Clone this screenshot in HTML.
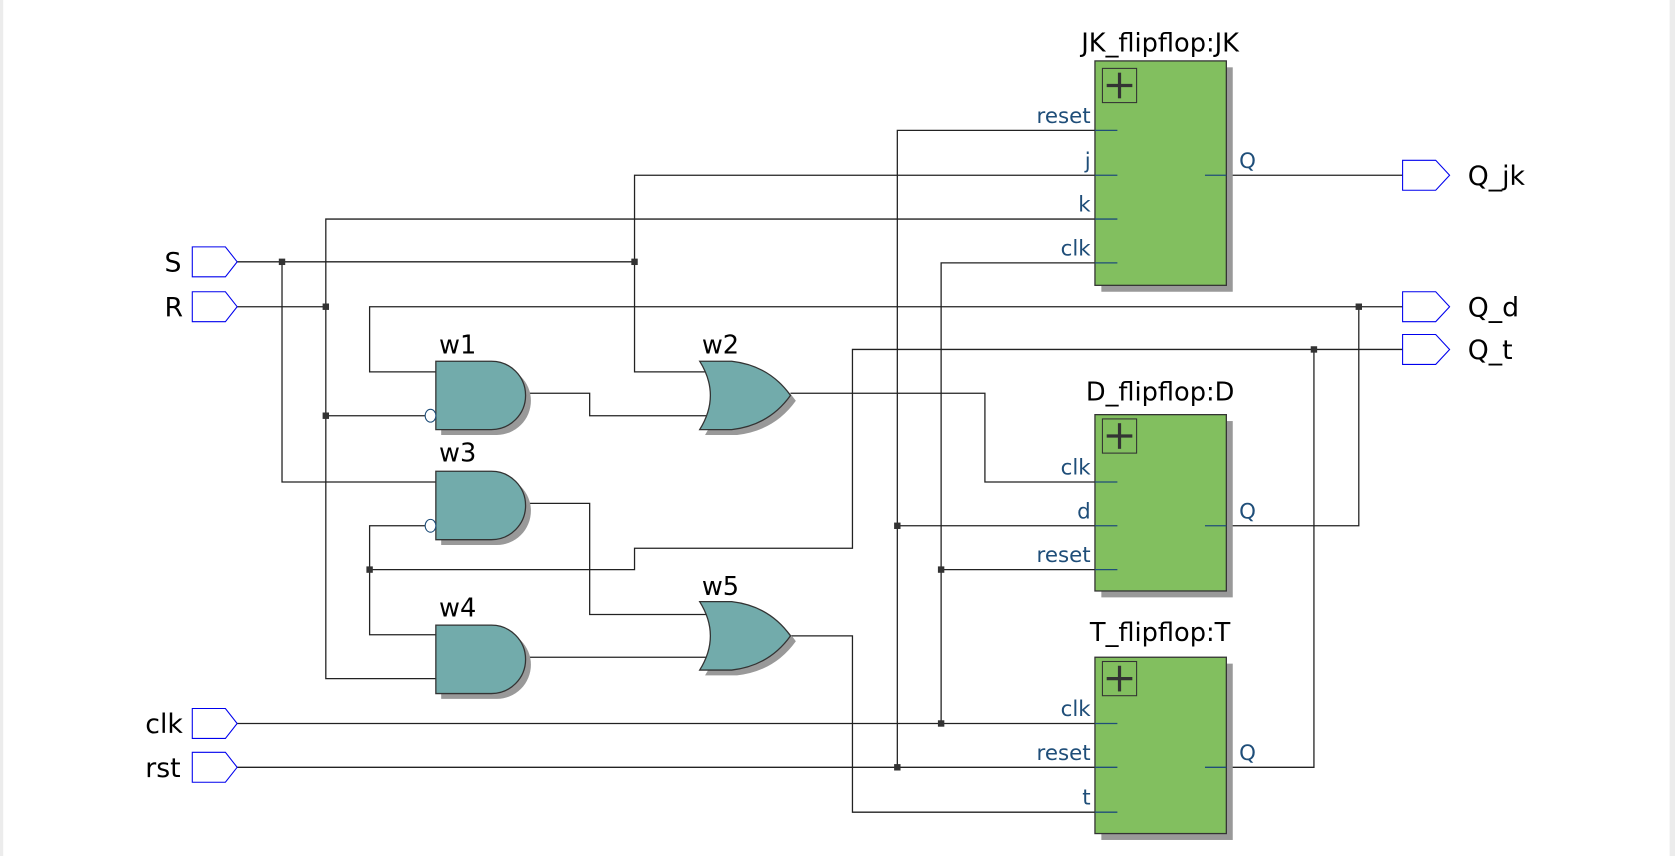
<!DOCTYPE html>
<html><head><meta charset="utf-8"><style>
html,body{margin:0;padding:0;background:#fff;}
svg{display:block;}
text{font-family:"DejaVu Sans","Liberation Sans",sans-serif;}
</style></head><body>
<svg width="1675" height="856" viewBox="0 0 1568 801" preserveAspectRatio="none" xmlns="http://www.w3.org/2000/svg">
<rect x="0" y="0" width="1568" height="801" fill="#fff"/>
<rect x="0" y="0" width="3" height="801" fill="#ececec"/>
<rect x="1563" y="0" width="5" height="801" fill="#ececec"/>

<g stroke="#222" stroke-width="1.2" fill="none">
<polyline points="222,245 594,245"/>
<polyline points="264,245 264,451 408,451"/>
<polyline points="1046,164 594,164 594,348 660,348"/>
<polyline points="222,287 305,287"/>
<polyline points="1046,205 305,205 305,635 408,635"/>
<polyline points="305,389 398,389"/>
<polyline points="1313,287 346,287 346,348 408,348"/>
<polyline points="1313,327 798,327 798,513 594,513 594,533 346,533"/>
<polyline points="398,492 346,492 346,594 408,594"/>
<polyline points="493,368 552,368 552,389 662,389"/>
<polyline points="740,368 922,368 922,451 1046,451"/>
<polyline points="493,471 552,471 552,575 662,575"/>
<polyline points="493,615 662,615"/>
<polyline points="740,595 798,595 798,760 1046,760"/>
<polyline points="222,677 1046,677"/>
<polyline points="1046,246 881,246 881,677"/>
<polyline points="881,533 1046,533"/>
<polyline points="222,718 1046,718"/>
<polyline points="1046,122 840,122 840,718"/>
<polyline points="840,492 1046,492"/>
<polyline points="1128,164 1313,164"/>
<polyline points="1128,492 1272,492 1272,287"/>
<polyline points="1128,718 1230,718 1230,327"/>
</g>
<g fill="#333">
<rect x="261" y="242" width="6" height="6"/>
<rect x="591" y="242" width="6" height="6"/>
<rect x="302" y="284" width="6" height="6"/>
<rect x="302" y="386" width="6" height="6"/>
<rect x="343" y="530" width="6" height="6"/>
<rect x="1269" y="284" width="6" height="6"/>
<rect x="1227" y="324" width="6" height="6"/>
<rect x="878" y="530" width="6" height="6"/>
<rect x="878" y="674" width="6" height="6"/>
<rect x="837" y="489" width="6" height="6"/>
<rect x="837" y="715" width="6" height="6"/>
</g>

<g>
<rect x="1031" y="63" width="123" height="210" fill="#999"/>
<rect x="1025" y="57" width="123" height="210" fill="#82bf5f" stroke="#333" stroke-width="1.2"/>
<rect x="1031" y="394" width="123" height="165" fill="#999"/>
<rect x="1025" y="388" width="123" height="165" fill="#82bf5f" stroke="#333" stroke-width="1.2"/>
<rect x="1031" y="621" width="123" height="165" fill="#999"/>
<rect x="1025" y="615" width="123" height="165" fill="#82bf5f" stroke="#333" stroke-width="1.2"/>
</g>
<g fill="none" stroke="#333">
<rect x="1032" y="64" width="32" height="32"/>
<rect x="1032" y="392" width="32" height="32"/>
<rect x="1032" y="619" width="32" height="32"/>
</g>
<g stroke="#333" stroke-width="3">
<line x1="1036" y1="80" x2="1060" y2="80"/><line x1="1048" y1="68" x2="1048" y2="92"/>
<line x1="1036" y1="408" x2="1060" y2="408"/><line x1="1048" y1="396" x2="1048" y2="420"/>
<line x1="1036" y1="635" x2="1060" y2="635"/><line x1="1048" y1="623" x2="1048" y2="647"/>
</g>
<g stroke="#1f4e79" stroke-width="1.2">
<line x1="1025" y1="122" x2="1046" y2="122"/><line x1="1025" y1="164" x2="1046" y2="164"/>
<line x1="1025" y1="205" x2="1046" y2="205"/><line x1="1025" y1="246" x2="1046" y2="246"/>
<line x1="1128" y1="164" x2="1148" y2="164"/>
<line x1="1025" y1="451" x2="1046" y2="451"/><line x1="1025" y1="492" x2="1046" y2="492"/>
<line x1="1025" y1="533" x2="1046" y2="533"/><line x1="1128" y1="492" x2="1148" y2="492"/>
<line x1="1025" y1="677" x2="1046" y2="677"/><line x1="1025" y1="718" x2="1046" y2="718"/>
<line x1="1025" y1="760" x2="1046" y2="760"/><line x1="1128" y1="718" x2="1148" y2="718"/>
</g>
<g fill="#1f4e79" font-size="20" text-anchor="end">
<text x="1021" y="115">reset</text><text x="1021" y="157">j</text>
<text x="1021" y="198">k</text><text x="1021" y="239">clk</text>
<text x="1021" y="444">clk</text><text x="1021" y="485">d</text><text x="1021" y="526">reset</text>
<text x="1021" y="670">clk</text><text x="1021" y="711">reset</text><text x="1021" y="753">t</text>
</g>
<g fill="#1f4e79" font-size="20">
<text x="1160" y="157">Q</text><text x="1160" y="485">Q</text><text x="1160" y="711">Q</text>
</g>
<g fill="#000" font-size="24" text-anchor="middle">
<text x="1086" y="48">JK_flipflop:JK</text>
<text x="1086" y="375">D_flipflop:D</text>
<text x="1086" y="600">T_flipflop:T</text>
</g>

<defs>
<path id="and" d="M0,0 H52 A32,32 0 0 1 52,64 H0 Z"/>
<path id="or" d="M0,0 H30 Q65,4 85,32 Q65,60 30,64 H0 Q20,32 0,0 Z"/>
</defs>
<g>
<use href="#and" x="413" y="343" fill="#999"/>
<use href="#and" x="408" y="338" fill="#72abab" stroke="#333" stroke-width="1.2"/>
<use href="#and" x="413" y="446" fill="#999"/>
<use href="#and" x="408" y="441" fill="#72abab" stroke="#333" stroke-width="1.2"/>
<use href="#and" x="413" y="590" fill="#999"/>
<use href="#and" x="408" y="585" fill="#72abab" stroke="#333" stroke-width="1.2"/>
<use href="#or" x="660" y="343" fill="#999"/>
<use href="#or" x="655" y="338" fill="#72abab" stroke="#333" stroke-width="1.2"/>
<use href="#or" x="660" y="568" fill="#999"/>
<use href="#or" x="655" y="563" fill="#72abab" stroke="#333" stroke-width="1.2"/>
</g>
<g fill="#fff" stroke="#1f4e79" stroke-width="1">
<ellipse cx="403" cy="389" rx="5" ry="6"/>
<ellipse cx="403" cy="492" rx="5" ry="6"/>
</g>
<g fill="#000" font-size="24">
<text x="411" y="331">w1</text><text x="411" y="432">w3</text><text x="411" y="577">w4</text>
<text x="657" y="331">w2</text><text x="657" y="557">w5</text>
</g>

<g fill="#fff" stroke="#0000ee" stroke-width="1">
<polygon points="180,231 211,231 222,245 211,259 180,259"/>
<polygon points="180,273 211,273 222,287 211,301 180,301"/>
<polygon points="180,663 211,663 222,677 211,691 180,691"/>
<polygon points="180,704 211,704 222,718 211,732 180,732"/>
<polygon points="1313,150 1344,150 1357,164 1344,178 1313,178"/>
<polygon points="1313,273 1344,273 1357,287 1344,301 1313,301"/>
<polygon points="1313,313 1344,313 1357,327 1344,341 1313,341"/>
</g>
<g fill="#000" font-size="25">
<text x="154" y="254">S</text><text x="154" y="296">R</text>
<text x="136" y="686">clk</text><text x="136" y="727">rst</text>
<text x="1374" y="173">Q_jk</text><text x="1374" y="296">Q_d</text><text x="1374" y="336">Q_t</text>
</g>
</svg>
</body></html>
